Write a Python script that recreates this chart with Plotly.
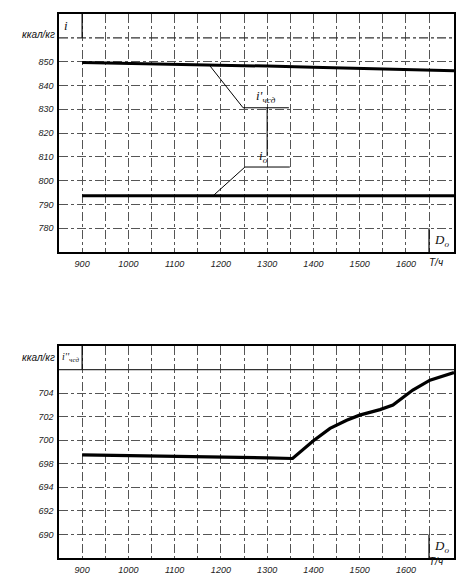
import plotly.graph_objects as go

# ---------- data ----------
# top chart: enthalpy, kcal/kg vs D0 (t/h)
top_x = [900, 1000, 1100, 1200, 1300, 1400, 1500, 1600, 1704]
i_chsd_top = [849.6, 849.3, 849.0, 848.6, 848.1, 847.6, 847.1, 846.6, 846.2]
i_o_top = [793.6, 793.6, 793.6, 793.6, 793.6, 793.6, 793.6, 793.6, 793.6]

# leader lines for labels (top chart)
lead1_x = [1176, 1248, 1347]
lead1_y = [848.3, 830.6, 830.6]
lead2_x = [1183, 1252, 1349]
lead2_y = [793.6, 805.7, 805.7]
lead3_x = [1300, 1300]
lead3_y = [830.6, 810.3]

# bottom chart: i''_чсд
bot_x = [900, 1000, 1100, 1200, 1300, 1355, 1400, 1436, 1472, 1500, 1544, 1572, 1615, 1652, 1704]
bot_y = [698.75, 698.7, 698.62, 698.56, 698.5, 698.45, 699.95, 701.0, 701.7, 702.13, 702.6, 702.98, 704.26, 705.1, 705.75]

x_grid = [900, 950, 1000, 1050, 1100, 1150, 1200, 1250, 1300, 1350, 1400, 1450, 1500, 1550, 1600, 1650]
x_labels = ["900", "", "1000", "", "1100", "", "1200", "", "1300", "", "1400", "", "1500", "", "1600", ""]

top_yticks = [780, 790, 800, 810, 820, 830, 840, 850]
top_ylabels = ["780", "790", "800", "810", "820", "830", "840", "850"]
bot_yticks = [692, 694, 696, 698, 700, 702, 704]
bot_ylabels = ["690", "692", "694", "698", "700", "702", "704"]

fig = go.Figure()
thick = dict(color="black", width=3)
thin = dict(color="black", width=1)
fig.add_trace(go.Scatter(x=top_x, y=i_chsd_top, mode="lines", line=thick, xaxis="x", yaxis="y"))
fig.add_trace(go.Scatter(x=top_x, y=i_o_top, mode="lines", line=thick, xaxis="x", yaxis="y"))
fig.add_trace(go.Scatter(x=lead1_x, y=lead1_y, mode="lines", line=thin, xaxis="x", yaxis="y"))
fig.add_trace(go.Scatter(x=lead2_x, y=lead2_y, mode="lines", line=thin, xaxis="x", yaxis="y"))
fig.add_trace(go.Scatter(x=lead3_x, y=lead3_y, mode="lines", line=thin, xaxis="x", yaxis="y"))
fig.add_trace(go.Scatter(x=bot_x, y=bot_y, mode="lines", line=dict(color="black", width=3.2), xaxis="x2", yaxis="y2"))

W, H = 469, 583
OFF = 8  # page body margin in the browser
def px(v):
    return (v - OFF) / W
def py(v):
    return 1 - (v - OFF) / H

xd = [px(59), px(454)]
top_dom = [py(252), py(14)]
bot_dom = [py(558), py(346)]

tickfont = dict(family="Liberation Sans", size=9, color="#222", style="italic")
axcommon = dict(showline=True, linecolor="black", linewidth=1.5, mirror=True,
                showgrid=True, gridcolor="#555", gridwidth=1, griddash="dashdot",
                zeroline=False, ticks="", tickfont=tickfont, automargin=False)

fig.update_layout(
    width=W, height=H, showlegend=False,
    paper_bgcolor="white", plot_bgcolor="white",
    margin=dict(l=0, r=0, t=0, b=0, autoexpand=False),
    xaxis=dict(domain=xd, range=[850, 1704], tickvals=x_grid, ticktext=x_labels, anchor="y", ticklabelstandoff=2, **axcommon),
    yaxis=dict(domain=top_dom, range=[770, 870], tickvals=top_yticks, ticktext=top_ylabels, anchor="x", ticklabelstandoff=2, **axcommon),
    xaxis2=dict(domain=xd, range=[850, 1704], tickvals=x_grid, ticktext=x_labels, anchor="y2", ticklabelstandoff=2, **axcommon),
    yaxis2=dict(domain=bot_dom, range=[690, 708], tickvals=bot_yticks, ticktext=bot_ylabels, anchor="x2", ticklabelstandoff=2, **axcommon),
)

# header lines (boxes for axis symbols)
fig.add_shape(type="line", xref="x", yref="y", x0=850, x1=1704, y0=860, y1=860, line=dict(color="#333", width=1.2, dash="dashdot"))
fig.add_shape(type="line", xref="x2", yref="y2", x0=850, x1=1704, y0=706, y1=706, line=dict(color="#333", width=1.2))
fig.add_shape(type="line", xref="x", yref="y", x0=900, x1=900, y0=860, y1=870, line=dict(color="black", width=1.2))
fig.add_shape(type="line", xref="x2", yref="y2", x0=900, x1=900, y0=706, y1=708, line=dict(color="black", width=1.2))
fig.add_shape(type="line", xref="x", yref="y", x0=1650, x1=1650, y0=770, y1=780, line=dict(color="black", width=1.2))
fig.add_shape(type="line", xref="x2", yref="y2", x0=1650, x1=1650, y0=690, y1=692, line=dict(color="black", width=1.2))

afont = dict(family="Liberation Sans", size=10, color="#111", style="italic")
serif = dict(family="Liberation Serif", size=13, color="#111", style="italic")
ann = [
    dict(x=px(57), y=py(27), xref="paper", yref="paper", xanchor="right", text="ккал/кг", showarrow=False, font=afont),
    dict(x=866, y=865, xref="x", yref="y", text="i", showarrow=False, font=serif),
    dict(x=1298, y=835.5, xref="x", yref="y", text="i'<sub>чсд</sub>", showarrow=False, font=serif),
    dict(x=1292, y=810, xref="x", yref="y", text="i<sub>o</sub>", showarrow=False, font=serif),
    dict(x=1677, y=775, xref="x", yref="y", text="D<sub>o</sub>", showarrow=False, font=serif),
    dict(x=1665, y=py(263), xref="x", yref="paper", text="T/ч", showarrow=False, font=afont),
    dict(x=px(57), y=py(357), xref="paper", yref="paper", xanchor="right", text="ккал/кг", showarrow=False, font=afont),
    dict(x=875, y=707, xref="x2", yref="y2", text="i''<sub>чсд</sub>", showarrow=False, font=dict(family="Liberation Serif", size=10, color="#111", style="italic")),
    dict(x=1677, y=691, xref="x2", yref="y2", text="D<sub>o</sub>", showarrow=False, font=serif),
    dict(x=1665, y=py(569), xref="x2", yref="paper", text="T/ч", showarrow=False, font=afont),
]
fig.update_layout(annotations=ann)

fig.write_html("out.html")
